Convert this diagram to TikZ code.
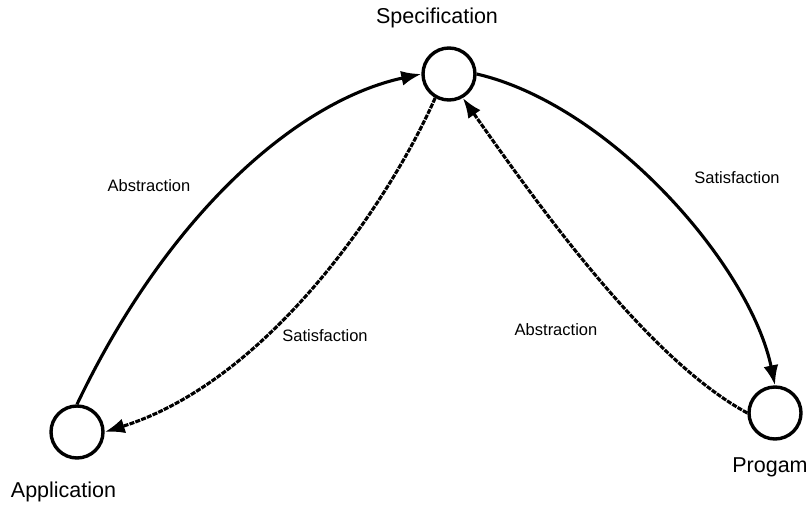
\documentclass[tikz,border=0pt]{standalone}
\usepackage{fontspec}
\setmainfont{Liberation Sans}
\usetikzlibrary{arrows.meta}
\begin{document}
\begin{tikzpicture}[x=1pt,y=-1pt,
  state/.style={circle,draw,line width=3.4pt,minimum size=52pt,inner sep=0pt},
  conn/.style={line width=3.1pt,-{Latex[length=20pt,width=15pt]}},
  dconn/.style={conn,dash pattern=on 5pt off 1.2pt},
  big/.style={font=\fontsize{21.5}{24}\selectfont},
  small/.style={font=\fontsize{16.5}{19}\selectfont}]
\useasboundingbox (0,0) rectangle (811,506);
\node[state] (spec) at (449,74) {};
\node[state] (app) at (77,432) {};
\node[state] (prog) at (775,413) {};
\node[big] (specl) at (437,18) {Specification};
\node[big] (appl) at (63.5,492) {Application};
\node[big] (progl) at (770,467) {Progam};
\draw[conn] (app.north) .. controls (170,210) and (300,100) .. (spec.west);
\draw[dconn] (spec.240) .. controls (390,200) and (270,380) .. (app.east);
\draw[conn] (spec.east) .. controls (610,105) and (750,265) .. (prog.north);
\draw[dconn] (prog.west) .. controls (650,360) and (545,215) .. (spec.300);
\node[small] (l1) at (149,186) {Abstraction};
\node[small] (l2) at (737,178) {Satisfaction};
\node[small] (l3) at (325,336) {Satisfaction};
\node[small] (l4) at (556,330) {Abstraction};
\end{tikzpicture}
\end{document}
